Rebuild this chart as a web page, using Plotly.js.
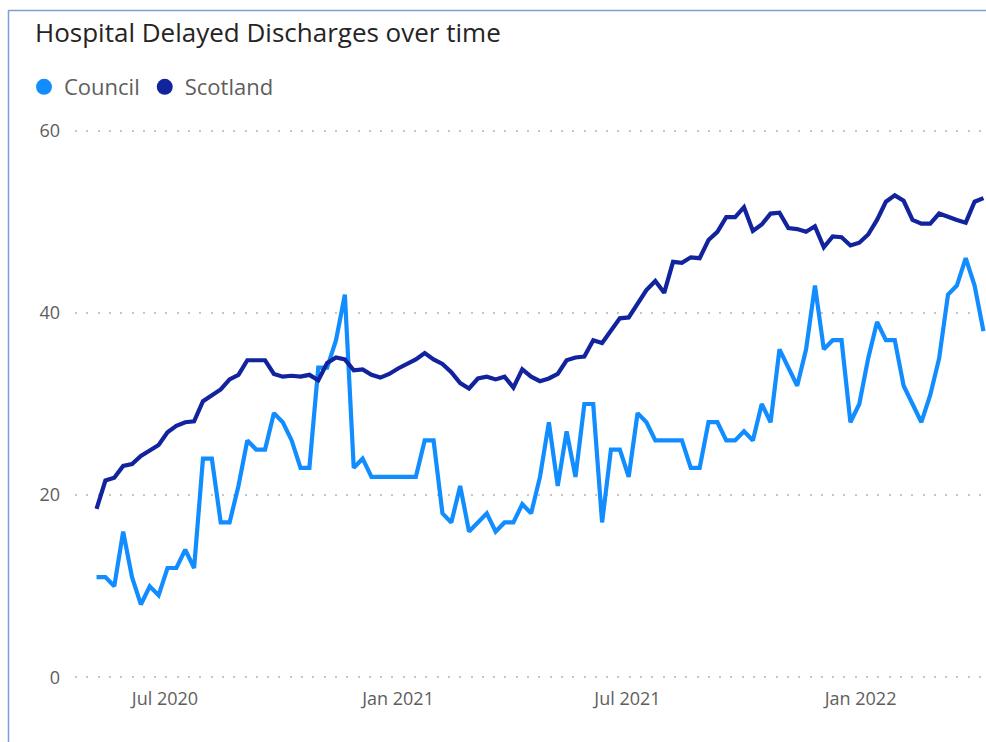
<!DOCTYPE html>
<html>
<head>
<meta charset="utf-8">
<script src="https://cdn.plot.ly/plotly-3.0.1.min.js"></script>
<style>
  html, body { margin: 0; padding: 0; background: #ffffff; }
  #chart { width: 986px; height: 742px; }
</style>
</head>
<body>
<div id="chart"></div>
<script>
// Weekly observations, first week and count
const startWeek = '2020-05-08';
const weekCount = 101;

const councilValues = [
  11, 11, 10, 16, 11, 8, 10, 9, 12, 12,
  14, 12, 24, 24, 17, 17, 21, 26, 25, 25,
  29, 28, 26, 23, 23, 34, 34, 37, 42, 23,
  24, 22, 22, 22, 22, 22, 22, 26, 26, 18,
  17, 21, 16, 17, 18, 16, 17, 17, 19, 18,
  22, 28, 21, 27, 22, 30, 30, 17, 25, 25,
  22, 29, 28, 26, 26, 26, 26, 23, 23, 28,
  28, 26, 26, 27, 26, 30, 28, 36, 34, 32,
  36, 43, 36, 37, 37, 28, 30, 35, 39, 37,
  37, 32, 30, 28, 31, 35, 42, 43, 46, 43,
  38
];

const scotlandValues = [
  18.5, 21.6, 21.9, 23.2, 23.4, 24.3, 24.9, 25.5, 26.9, 27.6,
  28.0, 28.1, 30.3, 31.0, 31.6, 32.7, 33.2, 34.8, 34.8, 34.8,
  33.3, 33.0, 33.1, 33.0, 33.2, 32.6, 34.5, 35.1, 34.9, 33.7,
  33.8, 33.2, 32.9, 33.3, 33.9, 34.4, 34.9, 35.6, 34.9, 34.4,
  33.5, 32.3, 31.7, 32.8, 33.0, 32.7, 33.0, 31.8, 33.8, 33.0,
  32.5, 32.8, 33.3, 34.8, 35.1, 35.2, 37.0, 36.7, 38.0, 39.4,
  39.5, 40.9, 42.5, 43.5, 42.2, 45.6, 45.5, 46.1, 46.0, 48.0,
  48.9, 50.5, 50.5, 51.6, 49.0, 49.7, 50.9, 51.0, 49.3, 49.2,
  48.9, 49.5, 47.2, 48.4, 48.3, 47.4, 47.7, 48.6, 50.2, 52.2,
  52.9, 52.3, 50.2, 49.8, 49.8, 50.9, 50.5, 50.2, 49.9, 52.2,
  52.6
];

const seriesNames = ['Council', 'Scotland'];
const seriesColors = ['#118DFF', '#12239E'];

const xTickVals = ['2020-07-01', '2021-01-01', '2021-07-01', '2022-01-01'];
const xTickText = ['Jul 2020', 'Jan 2021', 'Jul 2021', 'Jan 2022'];
const yTickVals = [0, 20, 40, 60];

const chartTitle = 'Hospital Delayed Discharges over time';

// Build the weekly date axis
function addDays(iso, d) {
  const t = new Date(iso + 'T00:00:00Z');
  t.setUTCDate(t.getUTCDate() + d);
  return t.toISOString().slice(0, 10);
}
const weeks = [];
for (let i = 0; i < weekCount; i++) weeks.push(addDays(startWeek, 7 * i));

const FONT = 'Open Sans, Roboto, sans-serif';

// plot geometry (pixels)
const W = 986, H = 742;
const L = 75, R = 0;
const T = 127, B = 61;
const PW = W - L - R, PH = H - T - B;

const traces = [
  {
    x: weeks, y: councilValues, name: seriesNames[0], type: 'scatter', mode: 'lines',
    line: { color: seriesColors[0], width: 4.2 }, showlegend: false, hoverinfo: 'x+y+name'
  },
  {
    x: weeks, y: scotlandValues, name: seriesNames[1], type: 'scatter', mode: 'lines',
    line: { color: seriesColors[1], width: 4.2 }, showlegend: false, hoverinfo: 'x+y+name'
  },
  // legend entries (circle markers, as in the reference legend)
  {
    x: [null], y: [null], name: seriesNames[0], type: 'scatter', mode: 'markers',
    marker: { color: seriesColors[0], size: 16, symbol: 'circle' }, showlegend: true
  },
  {
    x: [null], y: [null], name: seriesNames[1], type: 'scatter', mode: 'markers',
    marker: { color: seriesColors[1], size: 16, symbol: 'circle' }, showlegend: true
  }
];

const layout = {
  width: W,
  height: H,
  margin: { l: L, r: R, t: T, b: B },
  paper_bgcolor: '#ffffff',
  plot_bgcolor: '#ffffff',
  font: { family: FONT, color: '#605E5C' },
  title: {
    text: chartTitle,
    font: { family: FONT, size: 26, color: '#252423' },
    x: 35 / W, xanchor: 'left', xref: 'container',
    y: 1 - 33 / H, yanchor: 'middle', yref: 'container'
  },
  showlegend: true,
  legend: {
    orientation: 'h',
    x: (24 - L) / PW, xanchor: 'left',
    y: 1 + (T - 87) / PH, yanchor: 'middle',
    font: { family: FONT, size: 22, color: '#605E5C' },
    itemwidth: 30,
    tracegroupgap: 0,
    bgcolor: 'rgba(0,0,0,0)'
  },
  xaxis: {
    type: 'date',
    range: [addDays(startWeek, -17), addDays(startWeek, 702)],
    tickvals: xTickVals,
    ticktext: xTickText,
    showgrid: false,
    zeroline: false,
    showline: false,
    ticks: '',
    tickfont: { family: FONT, size: 18, color: '#605E5C' },
    ticklabelstandoff: 5,
    fixedrange: true
  },
  yaxis: {
    range: [-0.4, 60.4],
    tickvals: yTickVals,
    showgrid: true,
    gridcolor: '#C8C6C4',
    gridwidth: 2,
    griddash: '2px,9.3px',
    zeroline: false,
    showline: false,
    ticks: '',
    tickfont: { family: FONT, size: 18, color: '#605E5C' },
    ticklabelstandoff: 14,
    fixedrange: true
  },
  shapes: [
    { type: 'line', xref: 'paper', yref: 'paper', x0: (8.5 - L) / PW, x1: (8.5 - L) / PW,
      y0: -B / PH, y1: 1 + (T - 10) / PH, line: { color: '#7E9FD6', width: 1.5 } },
    { type: 'line', xref: 'paper', yref: 'paper', x0: (8.5 - L) / PW, x1: 1.01,
      y0: 1 + (T - 10.5) / PH, y1: 1 + (T - 10.5) / PH, line: { color: '#7E9FD6', width: 1.5 } }
  ]
};

Plotly.newPlot('chart', traces, layout, { displayModeBar: false, staticPlot: true });
</script>
</body>
</html>
